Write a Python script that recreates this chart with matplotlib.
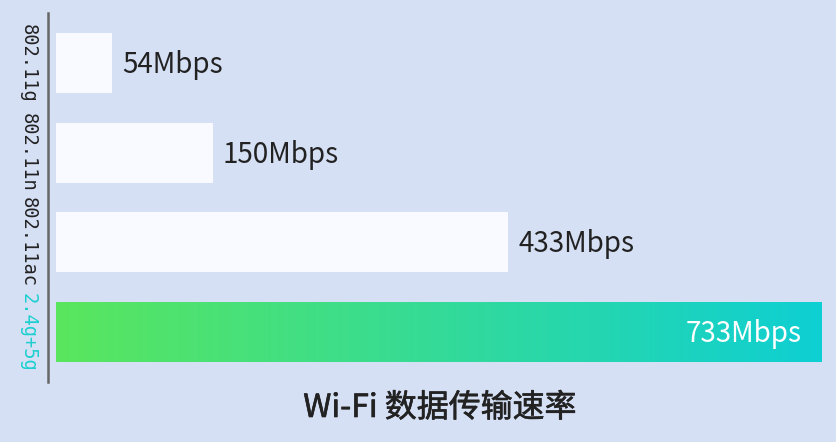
import numpy as np
import matplotlib
matplotlib.use("Agg")
import matplotlib.pyplot as plt
import matplotlib.patheffects as pe
from matplotlib.colors import LinearSegmentedColormap

# ---- data ----
categories = ["802.11g", "802.11n", "802.11ac", "2.4g+5g"]
speeds = [54, 150, 433, 733]
value_labels = ["54Mbps", "150Mbps", "433Mbps", "733Mbps"]
title = "Wi-Fi 数据传输速率"

# ---- style ----
BG = "#d6e0f5"
BAR = "#f8faff"
TEXT = "#222222"
GRAD_START = "#5ae65d"
GRAD_END = "#0ecfd3"
HILITE = "#1ccfcf"

plt.rcParams['font.family'] = ['Noto Sans CJK SC', 'DejaVu Sans']

W, H = 837, 442
fig = plt.figure(figsize=(W / 100, H / 100), dpi=100, facecolor=BG)
ax = fig.add_axes([48.5 / W, 1 - 382 / H, (W - 48.5) / W, (382 - 13) / H])
ax.set_facecolor(BG)

pos = np.arange(len(categories))
bh = 0.67
colors = [BAR] * (len(categories) - 1) + ["none"]
bars = ax.barh(pos, speeds, height=bh, color=colors, edgecolor="none", zorder=2)

# gradient bar for last category
cmap = LinearSegmentedColormap.from_list("g", [GRAD_START, GRAD_END])
grad = np.linspace(0, 1, 256).reshape(1, -1)
last = bars[-1]
im = ax.imshow(grad, cmap=cmap, aspect="auto",
               extent=(0, speeds[-1], pos[-1] + bh / 2, pos[-1] - bh / 2),
               zorder=2, interpolation="bilinear")
im.set_clip_path(last)

ax.set_xlim(-7.2, 748)
ax.set_ylim(pos[-1] + 0.558, pos[0] - 0.558)

# value labels
for i, (v, lab) in enumerate(zip(speeds, value_labels)):
    if i == len(speeds) - 1:
        ax.annotate(lab, (v, pos[i]), xytext=(-14, -7.2), textcoords="offset points",
                    ha="right", va="baseline", fontsize=20, color="white", zorder=3)
    else:
        ax.annotate(lab, (v, pos[i]), xytext=(7.3, -7.2), textcoords="offset points",
                    ha="left", va="baseline", fontsize=20, color=TEXT, zorder=3)

# axis styling
for s in ["top", "right", "bottom"]:
    ax.spines[s].set_visible(False)
ax.spines["left"].set_color("#666666")
ax.spines["left"].set_linewidth(1.8)
ax.set_xticks([])
ax.set_yticks(pos)
ax.set_yticklabels(categories, rotation=270, va="center", ha="center",
                   family=["DejaVu Sans Mono"], fontsize=13.5, color="#222222")
ax.get_yticklabels()[-1].set_color(HILITE)
ax.tick_params(axis="y", length=0, pad=14.5)

fig.text(440 / W, 1 - 408 / H, title, ha="center", va="center",
         fontsize=23, color=TEXT,
         path_effects=[pe.withStroke(linewidth=0.45, foreground=TEXT)])

fig.savefig("out.png", dpi=100, facecolor=BG)
